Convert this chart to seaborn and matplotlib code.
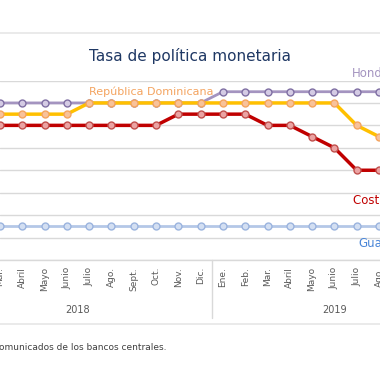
import matplotlib
matplotlib.use("Agg")
import matplotlib.pyplot as plt
import pandas as pd
import seaborn as sns
from matplotlib.lines import Line2D

months = ["Mar.", "Abril", "Mayo", "Junio", "Julio", "Ago.", "Sept.", "Oct.", "Nov.", "Dic.",
          "Ene.", "Feb.", "Mar.", "Abril", "Mayo", "Junio", "Julio", "Ago."]
honduras = [5.5] * 10 + [5.75] * 8
rep_dominicana = [5.25] * 4 + [5.5] * 12 + [5.0, 4.75]
costa_rica = [5.0] * 8 + [5.25] * 4 + [5.0, 5.0, 4.75, 4.5, 4.0, 4.0]
guatemala = [2.75] * 18

sns.set_theme(style="white")
plt.rcParams["font.family"] = ["DejaVu Sans"]

fig = plt.figure(figsize=(3.8, 3.8), dpi=100)
ax_h = (260 - 80.5) / 380
ax = fig.add_axes([0, 1 - 260 / 380, 1, ax_h])

x = list(range(len(months)))
series = [
    ("Guatemala", guatemala, "#b4c7e7", "#d3dff2", "#9bb4de", 2.0),
    ("Honduras", honduras, "#a494c0", "#d4cbe4", "#7f6fa3", 2.0),
    ("Costa Rica", costa_rica, "#c00000", "#eba3a3", "#c0504d", 2.5),
    ("República Dominicana", rep_dominicana, "#ffc000", "#f8c29a", "#f4a460", 2.5),
]
for name, vals, col, face, edge, lw in series:
    df = pd.DataFrame({"mes": x, "tasa": vals})
    sns.lineplot(data=df, x="mes", y="tasa", ax=ax, color=col, linewidth=lw,
                 marker="o", markersize=5, markerfacecolor=face,
                 markeredgecolor=edge, markeredgewidth=1.0, clip_on=False)

ax.set_xlim(2.5 / 22.44, 382.5 / 22.44)
ax.set_ylim(2.0, 6.0)
ax.set_yticks([2.0, 2.5, 3.0, 3.5, 4.0, 4.5, 5.0, 5.5, 6.0])
ax.yaxis.grid(True, color="#d9d9d9", linewidth=1.0)
ax.set_axisbelow(True)
for s in ["left", "right", "top"]:
    ax.spines[s].set_visible(False)
ax.spines["bottom"].set_color("#d9d9d9")
ax.spines["bottom"].set_linewidth(1.0)
ax.set_yticklabels([])
ax.tick_params(axis="y", length=0)
ax.set_xticks(x)
ax.set_xticklabels(months, rotation=90, fontsize=6.5, color="#595959", va="top")
ax.tick_params(axis="x", length=0, pad=5)
ax.set_xlabel("")
ax.set_ylabel("")

# year group labels and separator (pixel offsets below the axis line)
px = 1 / (ax_h * 380)
xt = ax.get_xaxis_transform()
ax.text(3.5, -50 * px, "2018", transform=xt, ha="center", va="center",
        fontsize=7, color="#595959")
ax.text(15.0, -50 * px, "2019", transform=xt, ha="center", va="center",
        fontsize=7, color="#595959")
ax.plot([9.51, 9.51], [0, -58 * px], transform=xt, color="#d9d9d9",
        linewidth=1.0, clip_on=False)

# series labels
ax.text(4.0, 5.75, "República Dominicana", fontsize=8, color="#f4a460", va="center", ha="left")
ax.text(15.8, 6.16, "Honduras", fontsize=8.5, color="#a494c0", va="center", ha="left")
ax.text(15.85, 3.33, "Costa Rica", fontsize=8.5, color="#c00000", va="center", ha="left")
ax.text(16.07, 2.37, "Guatemala", fontsize=8.5, color="#4a86d8", va="center", ha="left")

# title and frame
fig.text(190 / 380, 1 - 56 / 380, "Tasa de política monetaria", ha="center", va="center",
         fontsize=11, color="#1f3864")
fig.add_artist(Line2D([0, 1], [1 - 33 / 380, 1 - 33 / 380], color="#e6e6e6", linewidth=1.2))
fig.add_artist(Line2D([0, 1], [1 - 324 / 380, 1 - 324 / 380], color="#e6e6e6", linewidth=1.2))
fig.text(166 / 380, 1 - 348 / 380, "comunicados de los bancos centrales.", ha="right", va="center",
         fontsize=6.5, color="#404040")

fig.savefig("out.png", dpi=100)
